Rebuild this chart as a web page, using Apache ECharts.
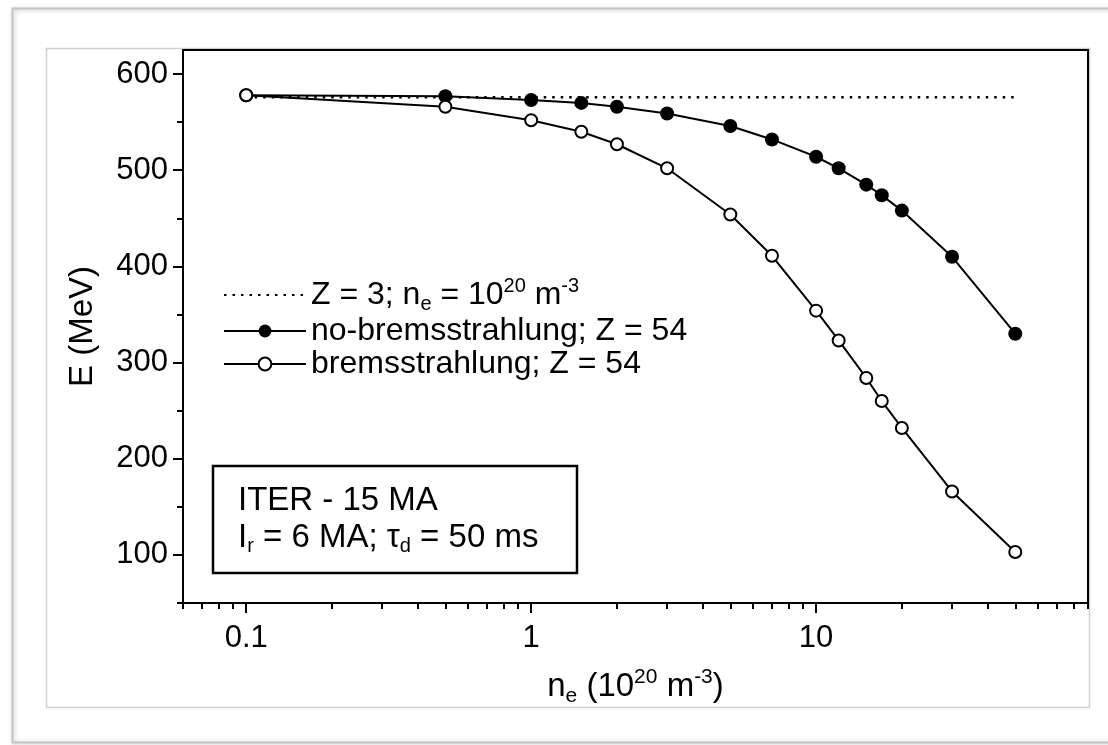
<!DOCTYPE html>
<html>
<head>
<meta charset="utf-8">
<script src="https://cdn.jsdelivr.net/npm/echarts@6/dist/echarts.min.js"></script>
<style>
  html, body { margin: 0; padding: 0; background: #ffffff; }
  #chart { width: 1108px; height: 745px; }
</style>
</head>
<body>
<div id="chart"></div>
<script>
// density n_e (10^20 m^-3)
const nE = [0.1, 0.5, 1, 1.5, 2, 3, 5, 7, 10, 12, 15, 17, 20, 30, 50];
// E (MeV) without bremsstrahlung, Z = 54
const noBrems = [578, 577, 573, 570, 566, 559, 546, 532, 514, 502, 485, 474, 458, 410, 330];
// E (MeV) with bremsstrahlung, Z = 54
const brems = [578, 566, 552, 540, 527, 502, 454, 411, 354, 323, 284, 260, 232, 166, 103];
// Z = 3 reference
const z3X = [0.1, 50];
const z3E = [576, 576];

const xMajor = [0.1, 1, 10];
const xMinor = [0.06, 0.07, 0.08, 0.09, 0.2, 0.3, 0.4, 0.5, 0.6, 0.7, 0.8, 0.9,
  2, 3, 4, 5, 6, 7, 8, 9, 20, 30, 40, 50, 60, 70, 80, 90];
const yMajor = [100, 200, 300, 400, 500, 600];
const yMinor = [50, 150, 250, 350, 450, 550];

const font = 'Liberation Sans, Arial, Helvetica, sans-serif';
const rich = {
  b: { fontSize: 32, fontFamily: font, color: '#000', lineHeight: 38 },
  sup: { fontSize: 20, fontFamily: font, color: '#000', verticalAlign: 'top', lineHeight: 14 },
  sub: { fontSize: 20, fontFamily: font, color: '#000', verticalAlign: 'bottom', lineHeight: 12 }
};
const nameRich = {
  b: { fontSize: 33, fontFamily: font, color: '#000', lineHeight: 40 },
  sup: { fontSize: 21, fontFamily: font, color: '#000', verticalAlign: 'top', lineHeight: 15 },
  sub: { fontSize: 21, fontFamily: font, color: '#000', verticalAlign: 'bottom', lineHeight: 12 }
};

let chart = echarts.init(document.getElementById('chart'));

function pairs(xs, ys) {
  return xs.map((x, i) => [x, ys[i]]);
}

let option = {
  backgroundColor: '#ffffff',
  animation: false,
  grid: {
    left: 183, top: 50, right: 20, bottom: 142,
    show: true, borderColor: '#000', borderWidth: 2, backgroundColor: 'transparent'
  },
  legend: {
    orient: 'vertical',
    left: 218,
    top: 271,
    itemWidth: 82,
    itemHeight: 16,
    itemGap: 1,
    textStyle: { fontSize: 32, fontFamily: font, color: '#000', rich: rich },
    formatter: function (name) {
      if (name === 'z3') return '{b|Z = 3; n}{sub|e}{b| = 10}{sup|20}{b| m}{sup|-3}';
      if (name === 'nob') return '{b|no-bremsstrahlung; Z = 54}';
      return '{b|bremsstrahlung; Z = 54}';
    },
    data: [
      { name: 'z3', itemStyle: { opacity: 0 } },
      'nob',
      'br'
    ]
  },
  xAxis: [{
    type: 'log',
    logBase: 10,
    min: 0.06,
    max: 90,
    name: '{b|n}{sub|e}{b| (10}{sup|20}{b| m}{sup|-3}{b|)}',
    nameLocation: 'middle',
    nameGap: 64,
    nameTextStyle: { rich: nameRich },
    axisLine: { lineStyle: { color: '#000', width: 2 } },
    axisTick: { length: 10, lineStyle: { color: '#000', width: 2 }, customValues: xMajor },
    axisLabel: {
      customValues: xMajor,
      margin: 20,
      fontSize: 31, fontFamily: font, color: '#000',
      formatter: function (v) { return String(v); }
    },
    splitLine: { show: false }
  }, {
    type: 'log',
    logBase: 10,
    min: 0.06,
    max: 90,
    position: 'bottom',
    axisLine: { show: false },
    axisTick: { length: 6, lineStyle: { color: '#000', width: 2 }, customValues: xMinor },
    axisLabel: { show: false },
    splitLine: { show: false }
  }],
  yAxis: [{
    type: 'value',
    min: 50,
    max: 625,
    name: 'E (MeV)',
    nameLocation: 'middle',
    nameGap: 84,
    nameMoveOverlap: false,
    nameTextStyle: { fontSize: 33, fontFamily: font, color: '#000' },
    axisLine: { lineStyle: { color: '#000', width: 2 } },
    axisTick: { length: 10, lineStyle: { color: '#000', width: 2 }, customValues: yMajor },
    axisLabel: {
      customValues: yMajor,
      margin: 15,
      fontSize: 31, fontFamily: font, color: '#000'
    },
    splitLine: { show: false }
  }, {
    type: 'value',
    min: 50,
    max: 625,
    position: 'left',
    axisLine: { show: false },
    axisTick: { length: 6, lineStyle: { color: '#000', width: 2 }, customValues: yMinor },
    axisLabel: { show: false },
    splitLine: { show: false }
  }],
  series: [
    {
      name: 'z3',
      type: 'line',
      data: pairs(z3X, z3E),
      symbol: 'none',
      lineStyle: { color: '#000', width: 2.5, type: [2.5, 6] },
      itemStyle: { color: '#000' }
    },
    {
      name: 'nob',
      type: 'line',
      data: pairs(nE, noBrems),
      symbol: 'circle',
      symbolSize: 14,
      lineStyle: { color: '#000', width: 2 },
      itemStyle: { color: '#000' }
    },
    {
      name: 'br',
      type: 'line',
      data: pairs(nE, brems),
      symbol: 'circle',
      symbolSize: 12,
      lineStyle: { color: '#000', width: 2 },
      itemStyle: { color: '#fff', borderColor: '#000', borderWidth: 2 }
    }
  ],
  graphic: [
    {
      type: 'rect',
      shape: { x: 12.5, y: 8.5, width: 1110, height: 734 },
      style: { fill: 'transparent', stroke: '#c4c4c4', lineWidth: 2,
        shadowBlur: 4, shadowColor: 'rgba(0,0,0,0.25)', shadowOffsetX: 1, shadowOffsetY: 1 },
      silent: true, z: -10
    },
    {
      type: 'rect',
      shape: { x: 46.5, y: 48.5, width: 1043, height: 659 },
      style: { fill: 'transparent', stroke: '#d0d0d0', lineWidth: 1.5 },
      silent: true, z: -10
    },
    {
      type: 'rect',
      shape: { x: 213, y: 466, width: 364, height: 107 },
      style: { fill: '#fff', stroke: '#000', lineWidth: 2.5 },
      z: 10
    },
    {
      type: 'text',
      left: 238,
      top: 484,
      z: 11,
      style: {
        text: '{b|ITER - 15 MA}\n{b|I}{sub|r}{b| = 6 MA; τ}{sub|d}{b| = 50 ms}',
        rich: {
          b: { fontSize: 33, fontFamily: font, fill: '#000', lineHeight: 37 },
          sub: { fontSize: 20, fontFamily: font, fill: '#000', verticalAlign: 'bottom', lineHeight: 10 }
        }
      }
    }
  ]
};
chart.setOption(option);
</script>
</body>
</html>
